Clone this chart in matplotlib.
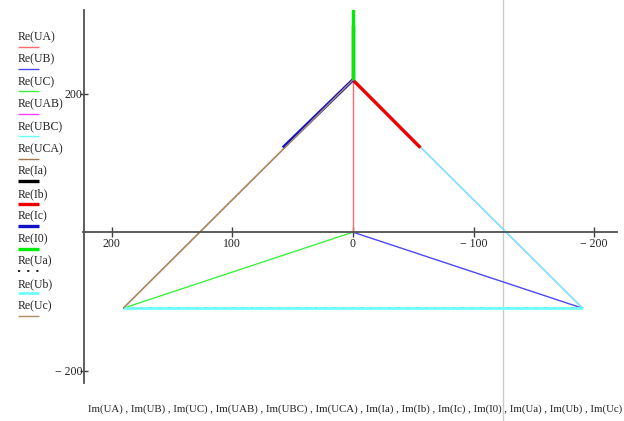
import matplotlib
matplotlib.use("Agg")
import matplotlib.pyplot as plt
from matplotlib.lines import Line2D

plt.rcParams['font.family'] = ['Liberation Serif', 'DejaVu Serif']

# Each trace: (Im values -> x, Re values -> y)
UA_im, UA_re = [0, 0], [0, 220]
UB_im, UB_re = [0, -190.5], [0, -110]
UC_im, UC_re = [0, 190.5], [0, -110]
UAB_im, UAB_re = [0, -190.5], [220, -110]
UBC_im, UBC_re = [0, -190.5], [220, -110]
UCA_im, UCA_re = [190.5, 0], [-110, 220]
Ia_im, Ia_re = [0, 0], [220, 300]
Ib_im, Ib_re = [0, -56], [220, 122]
Ic_im, Ic_re = [0, 58], [220, 122]
I0_im, I0_re = [0, 0], [220, 340]
Ua_im, Ua_re = [-190.5, 190.5], [-110, -110]
Ub_im, Ub_re = [-190.5, 190.5], [-110, -110]
Uc_im, Uc_re = [190.5, 0], [-110, 220]

names = ["UA", "UB", "UC", "UAB", "UBC", "UCA", "Ia", "Ib", "Ic", "I0", "Ua", "Ub", "Uc"]
traces = [(UA_im, UA_re), (UB_im, UB_re), (UC_im, UC_re), (UAB_im, UAB_re),
          (UBC_im, UBC_re), (UCA_im, UCA_re), (Ia_im, Ia_re), (Ib_im, Ib_re),
          (Ic_im, Ic_re), (I0_im, I0_re), (Ua_im, Ua_re), (Ub_im, Ub_re), (Uc_im, Uc_re)]
styles = [
    dict(color='#ff6a6a', lw=1.0),
    dict(color='#4a4aee', lw=1.0),
    dict(color='#40f040', lw=1.0),
    dict(color='#ff40ff', lw=1.0),
    dict(color='#66ffff', lw=1.0),
    dict(color='#a07850', lw=1.0),
    dict(color='#000000', lw=2.4),
    dict(color='#ee0000', lw=2.4),
    dict(color='#1010c8', lw=2.4),
    dict(color='#00ee00', lw=2.4),
    dict(color='#000000', lw=1.2, ls=(0, (1.3, 4.2))),
    dict(color='#70ffff', lw=2.0),
    dict(color='#b08c64', lw=1.0),
]

xticks = [200, 100, 0, -100, -200]
xticklabels = ["200", "100", "0", "\u2212 100", "\u2212 200"]
yticks = [200, -200]
yticklabels = ["200", "\u2212 200"]

W, H = 624, 421
fig = plt.figure(figsize=(W / 100, H / 100), dpi=100)
ax = fig.add_axes([84 / W, (H - 383) / H, (617 - 84) / W, (383 - 10) / H])

for (xi, yi), st in zip(traces, styles):
    ax.plot(xi, yi, solid_capstyle='butt', dash_capstyle='butt', **st)

ax.set_xlim(223, -219)
ax.set_ylim(-218, 321)

for s in ['top', 'right']:
    ax.spines[s].set_visible(False)
ax.spines['bottom'].set_position(('data', 0))
ax.spines['bottom'].set_bounds(224, -219)
for s in ['left', 'bottom']:
    ax.spines[s].set_color('#505050')
    ax.spines[s].set_linewidth(1.3)

ax.set_xticks(xticks)
ax.set_xticklabels(xticklabels)
ax.set_yticks(yticks)
ax.set_yticklabels(yticklabels)
ax.tick_params(axis='x', direction='inout', length=7, width=1, color='#404040',
               labelsize=8.5, pad=1, labelcolor='#222222')
ax.tick_params(axis='y', direction='inout', length=6, width=1, color='#404040',
               labelsize=8.5, pad=-2, labelcolor='#222222')
ax.patch.set_alpha(0)

# marker line
ax.axvline(-124.5, ymin=-0.2, ymax=1.2, clip_on=False, color='#cccccc', lw=1.0, zorder=0)

# Legend at left
y0 = 37
dy = 22.45
for i, (nm, st) in enumerate(zip(names, styles)):
    ty = y0 + i * dy
    fig.text(18 / W, 1 - ty / H, f"Re({nm})", fontsize=8.5, va='center', ha='left',
             color='#222222')
    ly = 1 - (ty + 9.5) / H
    fig.add_artist(Line2D([18 / W, 39 / W], [ly, ly], transform=fig.transFigure,
                          solid_capstyle='butt', **st))

fig.text(355 / W, 1 - 409 / H,
         " , ".join(f"Im({nm})" for nm in names),
         fontsize=7.8, ha='center', va='center', color='#222222')

fig.savefig("out.png", dpi=100)
